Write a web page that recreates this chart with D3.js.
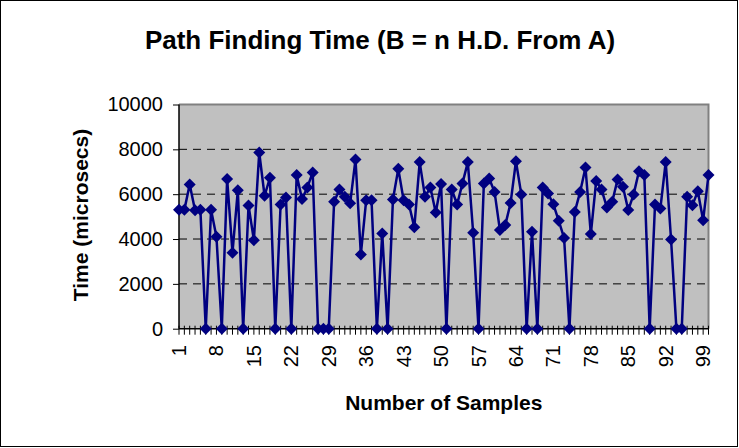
<!DOCTYPE html>
<html lang="en">
<head>
	<meta charset="UTF-8">
	<title>Path Finding Time</title>
	<style>
	body{ margin:0; background:#fff; }
	svg{ display:block; font-family:"Liberation Sans", Arial, sans-serif; }
	</style>
</head>
<body>
<div class="chart"></div>
<script src="https://cdn.jsdelivr.net/npm/d3@7"></script>
<script>
var samples = [1,2,3,4,5,6,7,8,9,10,11,12,13,14,15,16,17,18,19,20,
	21,22,23,24,25,26,27,28,29,30,31,32,33,34,35,36,37,38,39,40,
	41,42,43,44,45,46,47,48,49,50,51,52,53,54,55,56,57,58,59,60,
	61,62,63,64,65,66,67,68,69,70,71,72,73,74,75,76,77,78,79,80,
	81,82,83,84,85,86,87,88,89,90,91,92,93,94,95,96,97,98,99,100];

// time in microsecs
var times = [5300,5300,6430,5280,5300,0,5300,4100,0,6680,
	3390,6180,0,5500,3950,7860,5930,6730,0,5540,
	5850,0,6850,5780,6300,6970,0,0,0,5660,
	6210,5880,5590,7550,3310,5730,5730,0,4250,0,
	5760,7130,5730,5540,4520,7430,5880,6300,5180,6450,
	0,6210,5540,6480,7430,4280,0,6480,6700,6100,
	4400,4620,5610,7470,5990,0,4320,0,6300,6030,
	5550,4810,4050,0,5210,6100,7190,4220,6590,6210,
	5410,5660,6650,6330,5290,5990,7020,6850,0,5540,
	5360,7440,3980,0,0,5880,5510,6130,4840,6850];

var xTickLabels = [1,8,15,22,29,36,43,50,57,64,71,78,85,92,99];
var yTicks = [0,2000,4000,6000,8000,10000];
var gridTicks = [2000,4000,6000,8000];

var W = 739, H = 448;
var plot = { left:179, right:708.5, top:104.5, bottom:328.7 };

var svg = d3.select('.chart')
	.append('svg')
	.attr('width',W)
	.attr('height',H);

// outer frame
svg.append('rect')
	.attr('x',0.5).attr('y',0.5)
	.attr('width',737).attr('height',446)
	.style('fill','#fff')
	.style('stroke','#000');

var xscale = d3.scalePoint()
	.domain(samples)
	.range([plot.left, plot.right]);

var yscale = d3.scaleLinear()
	.domain([0,10000])
	.range([plot.bottom, plot.top]);

// plot area
svg.append('rect')
	.attr('x',plot.left)
	.attr('y',plot.top)
	.attr('width',plot.right-plot.left)
	.attr('height',plot.bottom-plot.top)
	.style('fill','#c0c0c0');

svg.append('path')
	.attr('d',`M${plot.left},${plot.top}H${plot.right}V${plot.bottom}`)
	.style('fill','none')
	.style('stroke','#808080')
	.style('stroke-width',2);

svg.append('g')
	.selectAll('line')
	.data(gridTicks)
	.enter().append('line')
	.attr('x1',plot.left).attr('x2',plot.right)
	.attr('y1',d=>yscale(d)).attr('y2',d=>yscale(d))
	.style('stroke','#000')
	.style('stroke-dasharray','8,6');

// y axis
var yAxis = d3.axisLeft(yscale)
	.tickValues(yTicks)
	.tickFormat(d3.format('d'))
	.tickSize(6)
	.tickPadding(10);
var gy = svg.append('g')
	.attr('transform',`translate(${plot.left},0)`)
	.call(yAxis);
gy.select('.domain').remove();
gy.selectAll('line').style('stroke','#000');
gy.selectAll('text')
	.style('font-size','20px')
	.style('fill','#000')
	.style('font-family','"Liberation Sans", Arial, sans-serif');

// x axis ticks (cross the axis)
svg.append('g')
	.selectAll('line')
	.data(samples)
	.enter().append('line')
	.attr('x1',d=>xscale(d)).attr('x2',d=>xscale(d))
	.attr('y1',plot.bottom-3).attr('y2',plot.bottom+6)
	.style('stroke','#000');

svg.append('g')
	.selectAll('text')
	.data(xTickLabels)
	.enter().append('text')
	.attr('transform',d=>`translate(${xscale(d)},345) rotate(-90)`)
	.attr('dy','0.35em')
	.attr('text-anchor','end')
	.style('font-size','20px')
	.text(d=>d);

svg.append('line')
	.attr('x1',plot.left).attr('x2',plot.left)
	.attr('y1',plot.top).attr('y2',plot.bottom)
	.style('stroke','#000').style('stroke-width',1.5);
svg.append('line')
	.attr('x1',plot.left).attr('x2',plot.right)
	.attr('y1',plot.bottom).attr('y2',plot.bottom)
	.style('stroke','#000').style('stroke-width',1.5);

// series
var line = d3.line()
	.x((d,i)=>xscale(samples[i]))
	.y(d=>yscale(d));

svg.append('path')
	.datum(times)
	.attr('d',line)
	.style('fill','none')
	.style('stroke','#000080')
	.style('stroke-width',2.5)
	.style('stroke-linejoin','round');

var diamond = d3.symbol().type(d3.symbolSquare).size(72);
svg.append('g')
	.selectAll('path')
	.data(times)
	.enter().append('path')
	.attr('d',diamond)
	.attr('transform',(d,i)=>`translate(${xscale(samples[i])},${yscale(d)}) rotate(45)`)
	.style('fill','#000080');

// titles
svg.append('text')
	.attr('x',380).attr('y',49)
	.attr('text-anchor','middle')
	.style('font-size','26px')
	.style('font-weight','bold')
	.text('Path Finding Time (B = n H.D. From A)');

svg.append('text')
	.attr('transform','translate(88,215) rotate(-90)')
	.attr('text-anchor','middle')
	.style('font-size','21px')
	.style('font-weight','bold')
	.text('Time (microsecs)');

svg.append('text')
	.attr('x',(plot.left+plot.right)/2).attr('y',410)
	.attr('text-anchor','middle')
	.style('font-size','21px')
	.style('font-weight','bold')
	.text('Number of Samples');
</script>
</body>
</html>
